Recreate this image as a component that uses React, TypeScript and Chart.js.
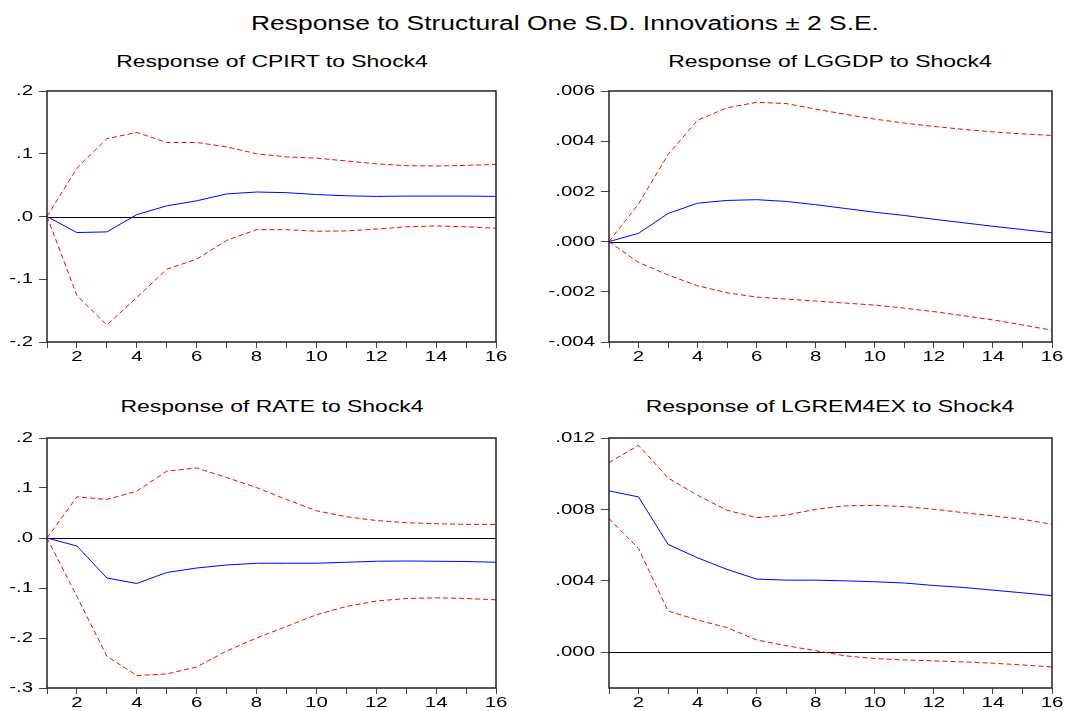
import React, { useEffect, useRef } from "react";
import { Chart, registerables } from "chart.js";

Chart.register(...registerables);

// ---------- data ----------
const PERIODS = ["1", "2", "3", "4", "5", "6", "7", "8", "9", "10", "11", "12", "13", "14", "15", "16"];

const MAIN_TITLE = "Response to Structural One S.D. Innovations \u00b1 2 S.E.";

const CPIRT_RESP = [0, -0.0256, -0.0245, 0.003, 0.017, 0.025, 0.036, 0.039, 0.038, 0.035, 0.033, 0.032, 0.0325, 0.0325, 0.0325, 0.032];
const CPIRT_UPPER = [0, 0.077, 0.124, 0.134, 0.118, 0.118, 0.111, 0.1, 0.095, 0.093, 0.0885, 0.084, 0.081, 0.0805, 0.0815, 0.083];
const CPIRT_LOWER = [0, -0.126, -0.173, -0.129, -0.084, -0.068, -0.038, -0.021, -0.021, -0.0235, -0.023, -0.02, -0.0165, -0.015, -0.0165, -0.0187];
const CPIRT_TICKS = [-0.2, -0.1, 0, 0.1, 0.2];

const LGGDP_RESP = [0, 0.00033, 0.00112, 0.00153, 0.00164, 0.00167, 0.0016, 0.00147, 0.00132, 0.00117, 0.00104, 0.00089, 0.00075, 0.00061, 0.00048, 0.00035];
const LGGDP_UPPER = [0, 0.0015, 0.00347, 0.00484, 0.00533, 0.00555, 0.0055, 0.00528, 0.00507, 0.00488, 0.00472, 0.00459, 0.00447, 0.00437, 0.00429, 0.00423];
const LGGDP_LOWER = [0, -0.00083, -0.00133, -0.00176, -0.00204, -0.00221, -0.00229, -0.00237, -0.00245, -0.00253, -0.00265, -0.00279, -0.00295, -0.00312, -0.00332, -0.00353];
const LGGDP_TICKS = [-0.004, -0.002, 0, 0.002, 0.004, 0.006];

const RATE_RESP = [0, -0.016, -0.08, -0.091, -0.069, -0.06, -0.054, -0.0505, -0.0505, -0.0505, -0.0485, -0.0465, -0.046, -0.0465, -0.047, -0.0485];
const RATE_UPPER = [0, 0.0824, 0.077, 0.0937, 0.1336, 0.14, 0.121, 0.101, 0.077, 0.0545, 0.0425, 0.035, 0.0306, 0.0286, 0.0272, 0.0272];
const RATE_LOWER = [0, -0.117, -0.2365, -0.275, -0.272, -0.258, -0.226, -0.2, -0.177, -0.1535, -0.137, -0.126, -0.121, -0.1196, -0.121, -0.1236];
const RATE_TICKS = [-0.3, -0.2, -0.1, 0, 0.1, 0.2];

const LGREM_RESP = [0.00904, 0.0087, 0.00604, 0.00529, 0.00464, 0.0041, 0.00404, 0.00404, 0.004, 0.00395, 0.00388, 0.00374, 0.00363, 0.00348, 0.00333, 0.00317];
const LGREM_UPPER = [0.01062, 0.01159, 0.00976, 0.00879, 0.00795, 0.00754, 0.00768, 0.00801, 0.0082, 0.00823, 0.00816, 0.00801, 0.00782, 0.00764, 0.00745, 0.00717];
const LGREM_LOWER = [0.00749, 0.00581, 0.00231, 0.00181, 0.00138, 0.00069, 0.00037, 0.00009, -0.0002, -0.00035, -0.00043, -0.00048, -0.00054, -0.00061, -0.00071, -0.00082];
const LGREM_TICKS = [0, 0.004, 0.008, 0.012];

// ---------- styling ----------
const FONT = "'Liberation Sans', Arial, sans-serif";
const TEXT_STRETCH = 1.36;
const PAD_TOP = 20;

type PanelDef = {
  title: string;
  resp: number[];
  upper: number[];
  lower: number[];
  ticks: number[];
  min: number;
  max: number;
  decimals: number;
  left: number;
  top: number;
  width: number;
  height: number;
  yAxisW: number;
  padRight: number;
  xAxisH: number;
  titleX: number;
  titleTop: number;
};

const PANELS: PanelDef[] = [
  {
    title: "Response of CPIRT to Shock4",
    resp: CPIRT_RESP, upper: CPIRT_UPPER, lower: CPIRT_LOWER, ticks: CPIRT_TICKS,
    min: -0.2, max: 0.2, decimals: 1,
    left: 0, top: 71, width: 516, height: 297, yAxisW: 47, padRight: 20, xAxisH: 26,
    titleX: 272, titleTop: 53,
  },
  {
    title: "Response of LGGDP to Shock4",
    resp: LGGDP_RESP, upper: LGGDP_UPPER, lower: LGGDP_LOWER, ticks: LGGDP_TICKS,
    min: -0.004, max: 0.006, decimals: 3,
    left: 540, top: 71, width: 529, height: 297, yAxisW: 69, padRight: 17, xAxisH: 26,
    titleX: 830, titleTop: 53,
  },
  {
    title: "Response of RATE to Shock4",
    resp: RATE_RESP, upper: RATE_UPPER, lower: RATE_LOWER, ticks: RATE_TICKS,
    min: -0.3, max: 0.2, decimals: 1,
    left: 0, top: 418, width: 516, height: 293, yAxisW: 47, padRight: 20, xAxisH: 23,
    titleX: 272, titleTop: 398,
  },
  {
    title: "Response of LGREM4EX to Shock4",
    resp: LGREM_RESP, upper: LGREM_UPPER, lower: LGREM_LOWER, ticks: LGREM_TICKS,
    min: -0.002, max: 0.012, decimals: 3,
    left: 540, top: 418, width: 529, height: 293, yAxisW: 69, padRight: 17, xAxisH: 23,
    titleX: 830, titleTop: 398,
  },
];

function fmt(v: number, d: number): string {
  let s = v.toFixed(d);
  if (s.startsWith("-0.")) s = "-" + s.slice(2);
  else if (s.startsWith("0.")) s = s.slice(1);
  if (s === "-.0" || s === "-.000") s = s.slice(1);
  return s;
}

function patchStretch(ctx: any) {
  if (ctx.__stretched) return;
  const orig = ctx.fillText;
  ctx.fillText = function (text: string, x: number, y: number, maxWidth?: number) {
    this.save();
    this.translate(x, y);
    this.scale(TEXT_STRETCH, 1);
    if (maxWidth === undefined || maxWidth === null) orig.call(this, text, 0, 0);
    else orig.call(this, text, 0, 0, maxWidth / TEXT_STRETCH);
    this.restore();
  };
  ctx.__stretched = true;
}

const stretchPlugin = {
  id: "stretchText",
  afterInit(chart: any) {
    patchStretch(chart.ctx);
  },
};

const framePlugin = {
  id: "frameAndZero",
  beforeDatasetsDraw(chart: any) {
    const { ctx, chartArea } = chart;
    const y0 = chart.scales.y.getPixelForValue(0);
    ctx.save();
    ctx.strokeStyle = "#000";
    ctx.lineWidth = 1;
    ctx.beginPath();
    ctx.moveTo(chartArea.left, Math.round(y0) + 0.5);
    ctx.lineTo(chartArea.right, Math.round(y0) + 0.5);
    ctx.stroke();
    ctx.restore();
  },
  afterDraw(chart: any) {
    const { ctx, chartArea } = chart;
    ctx.save();
    ctx.strokeStyle = "#222";
    ctx.lineWidth = 1.5;
    ctx.strokeRect(
      Math.round(chartArea.left),
      Math.round(chartArea.top),
      Math.round(chartArea.right) - Math.round(chartArea.left),
      Math.round(chartArea.bottom) - Math.round(chartArea.top)
    );
    ctx.restore();
  },
};

function Panel({ p }: { p: PanelDef }) {
  const ref = useRef<HTMLCanvasElement | null>(null);

  useEffect(() => {
    if (!ref.current) return;
    const lineBase = { pointRadius: 0, pointHoverRadius: 0, tension: 0, borderWidth: 1, fill: false };
    const chart = new Chart(ref.current, {
      type: "line",
      data: {
        labels: PERIODS,
        datasets: [
          { ...lineBase, label: "upper", data: p.upper, borderColor: "#ff0000", borderDash: [5, 3] },
          { ...lineBase, label: "lower", data: p.lower, borderColor: "#ff0000", borderDash: [5, 3] },
          { ...lineBase, label: "response", data: p.resp, borderColor: "#0000ff" },
        ],
      },
      options: {
        animation: false,
        responsive: false,
        devicePixelRatio: 1,
        events: [],
        layout: { padding: { top: PAD_TOP, right: p.padRight, left: 0, bottom: 0 } },
        plugins: {
          legend: { display: false },
          tooltip: { enabled: false },
          title: { display: false },
        },
        scales: {
          x: {
            type: "category",
            offset: false,
            border: { display: false },
            grid: {
              display: true,
              drawOnChartArea: false,
              drawTicks: true,
              tickLength: 6,
              color: "#444",
              offset: false,
            },
            ticks: {
              autoSkip: false,
              maxRotation: 0,
              minRotation: 0,
              padding: 0,
              color: "#000",
              font: { family: FONT, size: 15 },
              callback: (_v: any, i: number) => ((i + 1) % 2 === 0 ? PERIODS[i] : ""),
            },
            afterFit: (s: any) => {
              s.height = p.xAxisH;
            },
          },
          y: {
            type: "linear",
            min: p.min,
            max: p.max,
            border: { display: false },
            grid: {
              display: true,
              drawOnChartArea: false,
              drawTicks: true,
              tickLength: 8,
              color: "#444",
            },
            ticks: {
              padding: 6,
              color: "#000",
              font: { family: FONT, size: 15 },
              callback: (v: any) => fmt(Number(v), p.decimals),
            },
            afterBuildTicks: (s: any) => {
              s.ticks = p.ticks.map((v) => ({ value: v }));
            },
            afterFit: (s: any) => {
              s.width = p.yAxisW;
            },
          },
        },
      },
      plugins: [stretchPlugin, framePlugin],
    } as any);
    return () => chart.destroy();
  }, [p]);

  return (
    <>
      <div
        style={{
          position: "absolute",
          left: p.titleX,
          top: p.titleTop,
          fontFamily: FONT,
          fontSize: 17,
          lineHeight: 1,
          whiteSpace: "nowrap",
          color: "#000",
          transform: `translateX(-50%) scaleX(1.35)`,
        }}
      >
        {p.title}
      </div>
      <canvas
        ref={ref}
        width={p.width}
        height={p.height}
        style={{ position: "absolute", left: p.left, top: p.top, width: p.width, height: p.height }}
      />
    </>
  );
}

export default function App() {
  return (
    <div
      style={{
        position: "fixed",
        left: 0,
        top: 0,
        width: 1069,
        height: 711,
        background: "#fff",
        overflow: "hidden",
      }}
    >
      <div
        style={{
          position: "absolute",
          left: 565,
          top: 13,
          fontFamily: FONT,
          fontSize: 20,
          lineHeight: 1,
          whiteSpace: "nowrap",
          color: "#000",
          transform: "translateX(-50%) scaleX(1.32)",
        }}
      >
        {MAIN_TITLE}
      </div>
      {PANELS.map((p, i) => (
        <Panel key={i} p={p} />
      ))}
    </div>
  );
}
